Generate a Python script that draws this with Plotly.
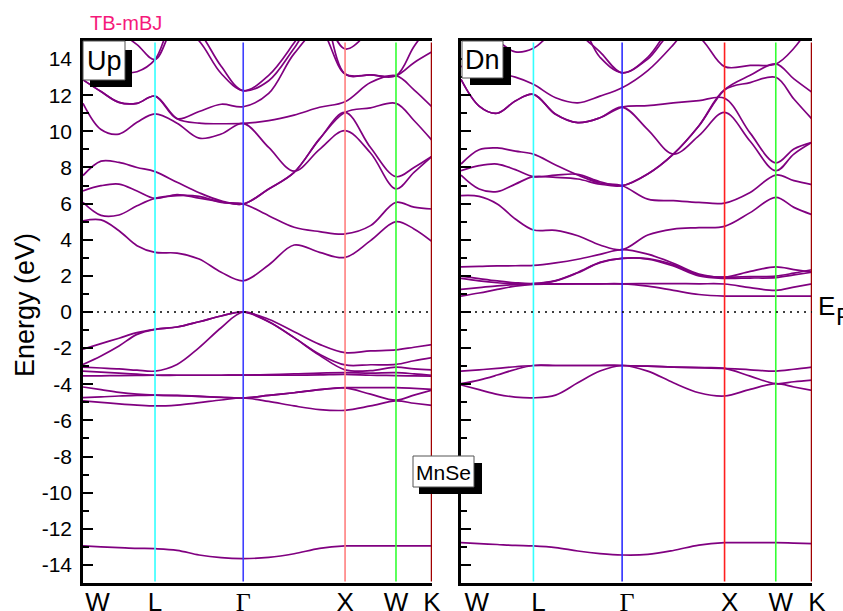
import plotly.graph_objects as go

# ---------------- data ----------------
KPTS = [0.0, 0.1768, 0.3536, 0.5303, 0.7071, 0.9236, 1.1401, 1.3566, 1.5731,
        1.8231, 2.0731, 2.3231, 2.5731, 2.8231, 3.0731, 3.2499, 3.4267]
HSP_POS = [0.0, 0.7071, 1.5731, 2.5731, 3.0731, 3.4267]
HSP_LABELS = ["W", "L", "Γ", "X", "W", "K"]
Y_TICKS = [-14, -12, -10, -8, -6, -4, -2, 0, 2, 4, 6, 8, 10, 12, 14]
Y_TICK_TEXT = ["-14", "-12", "-10", "-8", "-6", "-4", "-2", "0", "2", "4", "6", "8", "10", "12", "14"]
Y_MINOR = [-13, -11, -9, -7, -5, -3, -1, 1, 3, 5, 7, 9, 11, 13]

# spin up
UP_CORE = [[-12.95, -13.0, -13.04, -13.08, -13.1, -13.19, -13.45, -13.6, -13.65, -13.58, -13.38, -13.08, -12.95, -12.95, -12.95, -12.95, -12.95]]
UP_VALENCE = [
    [-4.92, -5.0, -5.08, -5.15, -5.2, -5.15, -5.02, -4.87, -4.76, -4.95, -5.2, -5.4, -5.44, -5.2, -4.92, -5.05, -5.17],
    [-4.74, -4.7, -4.65, -4.62, -4.6, -4.63, -4.68, -4.73, -4.76, -4.62, -4.47, -4.3, -4.2, -4.55, -4.88, -4.6, -4.32],
    [-4.15, -4.3, -4.45, -4.55, -4.6, -4.62, -4.66, -4.72, -4.76, -4.62, -4.47, -4.3, -4.19, -4.19, -4.19, -4.23, -4.28],
    [-3.54, -3.53, -3.52, -3.51, -3.5, -3.5, -3.5, -3.5, -3.49, -3.5, -3.5, -3.48, -3.45, -3.5, -3.52, -3.54, -3.55],
    [-3.27, -3.33, -3.38, -3.44, -3.5, -3.5, -3.5, -3.5, -3.49, -3.47, -3.43, -3.38, -3.36, -3.38, -3.36, -3.42, -3.5],
    [-3.05, -3.1, -3.15, -3.22, -3.27, -2.9, -1.97, -0.87, 0.0, -0.54, -1.42, -2.4, -3.2, -3.25, -3.05, -3.15, -3.2],
    [-2.9, -2.43, -1.88, -1.24, -0.96, -0.83, -0.54, -0.22, 0.0, -0.54, -1.42, -2.34, -2.93, -2.92, -2.9, -2.7, -2.53],
    [-2.06, -1.75, -1.45, -1.14, -0.96, -0.83, -0.54, -0.22, 0.0, -0.4, -1.09, -1.79, -2.25, -2.15, -2.1, -1.95, -1.8],
]
UP_CONDUCTION = [
    [5.05, 5.1, 4.5, 3.67, 3.3, 3.26, 2.93, 2.2, 1.73, 2.6, 3.71, 3.3, 3.02, 3.95, 5.0, 4.6, 3.9],
    [6.07, 5.35, 5.37, 5.88, 6.29, 6.44, 6.4, 6.07, 5.98, 5.33, 4.69, 4.45, 4.32, 4.78, 6.07, 5.8, 5.7],
    [6.7, 6.99, 7.08, 6.7, 6.29, 6.5, 6.3, 6.1, 5.98, 6.81, 7.73, 9.58, 11.05, 9.1, 7.49, 8.0, 8.62],
    [7.55, 8.35, 8.28, 8.0, 7.77, 7.18, 6.6, 6.15, 5.98, 6.81, 7.73, 9.58, 11.05, 11.3, 11.55, 10.6, 9.5],
    [11.55, 10.1, 9.85, 10.5, 10.97, 10.45, 9.62, 9.85, 10.44, 9.11, 7.8, 9.0, 10.04, 8.8, 6.81, 7.73, 8.62],
    [12.85, 12.2, 11.6, 11.55, 11.95, 10.7, 10.45, 10.42, 10.44, 10.59, 10.9, 11.33, 11.64, 12.7, 13.08, 12.3, 11.35],
    [12.85, 12.2, 11.6, 11.55, 11.95, 10.7, 11.1, 11.5, 11.36, 12.1, 14.3, 15.6, 13.17, 13.12, 13.08, 13.8, 14.4],
    [16.0, 16.0, 15.5, 14.8, 13.97, 16.0, 15.0, 13.2, 12.25, 12.8, 14.6, 16.5, 14.56, 15.6, 17.0, 17.0, 16.5],
    [13.5, 13.3, 13.25, 13.3, 13.97, 16.5, 15.5, 13.6, 12.25, 13.1, 14.9, 17.0, 13.17, 13.12, 13.08, 14.7, 16.0],
]

# spin down
DN_CORE = [[-12.77, -12.82, -12.87, -12.92, -12.95, -13.04, -13.23, -13.37, -13.45, -13.42, -13.2, -12.9, -12.77, -12.77, -12.77, -12.79, -12.82]]
DN_VALENCE = [
    [-4.04, -4.3, -4.56, -4.71, -4.75, -4.6, -3.92, -3.27, -2.96, -3.27, -3.92, -4.47, -4.65, -4.28, -3.97, -4.15, -4.34],
    [-3.97, -3.77, -3.49, -3.18, -2.96, -2.96, -2.96, -2.96, -2.96, -3.0, -3.05, -3.08, -3.12, -3.55, -3.97, -3.86, -3.77],
    [-3.27, -3.2, -3.12, -3.03, -2.96, -2.96, -2.96, -2.96, -2.96, -3.0, -3.05, -3.08, -3.12, -3.2, -3.27, -3.17, -3.05],
]
DN_CONDUCTION = [
    [0.88, 1.05, 1.25, 1.43, 1.53, 1.54, 1.55, 1.56, 1.56, 1.43, 1.2, 0.97, 0.88, 0.88, 0.88, 0.88, 0.88],
    [1.25, 1.35, 1.45, 1.52, 1.55, 1.56, 1.56, 1.56, 1.56, 1.57, 1.57, 1.56, 1.55, 1.35, 1.2, 1.38, 1.56],
    [1.86, 1.72, 1.62, 1.57, 1.56, 1.72, 2.17, 2.73, 2.97, 2.93, 2.55, 2.0, 1.86, 1.88, 1.9, 2.05, 2.2],
    [1.99, 1.85, 1.72, 1.62, 1.58, 1.74, 2.19, 2.75, 2.97, 2.95, 2.62, 2.05, 1.93, 1.96, 1.99, 2.15, 2.34],
    [2.5, 2.52, 2.55, 2.56, 2.58, 2.72, 2.92, 3.19, 3.45, 3.2, 2.7, 2.1, 1.93, 2.25, 2.5, 2.35, 2.21],
    [6.44, 6.4, 5.98, 5.15, 4.54, 4.52, 4.22, 3.71, 3.45, 4.26, 4.59, 4.67, 4.74, 5.5, 6.35, 5.79, 5.39],
    [8.19, 8.98, 9.08, 8.9, 8.74, 8.14, 7.58, 7.14, 6.99, 6.25, 6.16, 6.07, 6.03, 6.62, 7.58, 7.27, 7.05],
    [7.82, 8.1, 8.19, 7.88, 7.49, 7.58, 7.62, 7.21, 6.99, 7.64, 8.74, 10.31, 12.3, 12.7, 12.99, 11.79, 10.68],
    [7.58, 6.81, 6.66, 7.08, 7.49, 7.45, 7.36, 7.08, 6.99, 7.64, 8.74, 10.31, 12.3, 13.1, 13.73, 12.9, 12.16],
    [12.88, 11.4, 11.0, 11.68, 12.05, 10.94, 10.48, 10.75, 11.34, 10.1, 8.74, 9.76, 11.05, 9.45, 7.82, 8.74, 9.39],
    [12.88, 11.4, 11.0, 11.68, 12.05, 10.94, 10.48, 10.75, 11.34, 11.42, 11.57, 11.7, 11.83, 9.9, 8.25, 9.02, 9.39],
    [13.6, 13.4, 13.2, 13.0, 12.6, 11.86, 11.58, 11.95, 12.41, 13.36, 14.8, 16.5, 17.0, 17.0, 17.0, 17.0, 17.0],
    [16.0, 15.5, 15.0, 14.4, 14.6, 15.6, 16.0, 14.1, 13.24, 14.0, 15.5, 15.2, 13.58, 13.65, 13.73, 14.6, 16.0],
    [17.0, 17.0, 17.0, 17.0, 17.0, 17.0, 15.5, 14.4, 13.24, 14.1, 16.0, 17.0, 17.0, 17.0, 17.0, 17.0, 17.0],
]

# ---------------- styles ----------------
W, H = 843, 611
FONT = "Arial, 'Liberation Sans', sans-serif"
BAND_COLOR = "#800080"
LEFT_VLINE_COLORS = ["#33FFFF", "#3F3FFF", "#FF7F7F", "#33FF33", "#A00000"]
RIGHT_VLINE_COLORS = ["#33FFFF", "#2F2FFF", "#FF1F1F", "#33FF33", "#A00000"]
NB = "\u00a0"


def tick_text(labels, first_pad):
    out = []
    for i, lab in enumerate(labels):
        if lab == "Γ":
            lab = '<span style="font-family:Liberation Serif">Γ</span>'
        out.append(NB * (first_pad if i == 0 else 0) + lab)
    return out


def px(x):
    return x / W


def py(y):
    return 1 - y / H


YB, YT = py(583), py(41)

fig = go.Figure()

for xa, ya, groups in [("x", "y", [UP_CORE, UP_VALENCE, UP_CONDUCTION]),
                       ("x2", "y2", [DN_CORE, DN_VALENCE, DN_CONDUCTION])]:
    for g in groups:
        for band in g:
            fig.add_trace(go.Scatter(
                x=KPTS, y=band, xaxis=xa, yaxis=ya, mode="lines",
                line=dict(color=BAND_COLOR, width=1.7, shape="spline", smoothing=1.0),
                hoverinfo="skip", showlegend=False))

shapes = []
for xa, ya, cols in [("x", "y", LEFT_VLINE_COLORS), ("x2", "y2", RIGHT_VLINE_COLORS)]:
    for pos, c in zip(HSP_POS[1:], cols):
        wdt = 2.5 if c == "#A00000" else 1.6
        shapes.append(dict(type="line", xref=xa, yref="paper", x0=pos, x1=pos,
                           y0=YB + 1.5 / H, y1=YT - 1.5 / H,
                           line=dict(color=c, width=wdt), layer="above"))
    shapes.append(dict(type="line", xref=xa, yref=ya, x0=HSP_POS[0], x1=HSP_POS[-1],
                       y0=0, y1=0, line=dict(color="black", width=1.6, dash="2px,5px"),
                       layer="above"))


def box(x0, y0, x1, y1, sx0, sy0, sx1, sy1):
    return [dict(type="rect", xref="paper", yref="paper", x0=px(sx0), x1=px(sx1),
                 y0=py(sy1), y1=py(sy0), fillcolor="black", line=dict(width=0), layer="above"),
            dict(type="rect", xref="paper", yref="paper", x0=px(x0), x1=px(x1),
                 y0=py(y1), y1=py(y0), fillcolor="white", line=dict(color="#555555", width=1),
                 layer="above")]


shapes += box(83, 41, 125, 80, 90, 50, 132, 87)
shapes += box(462, 41, 503, 78, 470, 47, 511, 85)
shapes += box(413, 456, 474, 487, 419, 463, 482, 494)


def label(text, x, y, size, color="black", angle=0, xanchor="center"):
    return dict(text=text, x=px(x), y=py(y), xref="paper", yref="paper", showarrow=False,
                xanchor=xanchor, yanchor="middle", textangle=angle,
                font=dict(family=FONT, size=size, color=color))


annotations = [
    label("TB-mBJ", 126, 23, 20, color="#F5197A"),
    label("Up", 104, 61, 27),
    label("Dn", 482.5, 60, 27),
    label("MnSe", 443.5, 472, 21),
    label("Energy (eV)", 25, 305, 27, angle=-90),
    label("E", 816, 306, 26, xanchor="left"),
    label("F", 834, 316, 24, xanchor="left"),
]

xcommon = dict(range=[HSP_POS[0], HSP_POS[-1]], showline=True, linecolor="black", linewidth=2.5,
               mirror=True, tickmode="array", tickvals=HSP_POS, ticks="",
               tickfont=dict(family=FONT, size=26, color="black"), showgrid=False, zeroline=False,
               automargin=False, ticklabelstandoff=-6)
ycommon = dict(range=[-15, 15], showline=True, linecolor="black", linewidth=2.5, mirror=False,
               tickmode="array", tickvals=Y_TICKS, ticktext=Y_TICK_TEXT, ticks="inside",
               ticklen=10, tickwidth=2, tickcolor="black",
               minor=dict(tickmode="array", tickvals=Y_MINOR, ticks="inside", ticklen=6,
                          tickwidth=2, tickcolor="black"),
               tickfont=dict(family=FONT, size=21, color="black"), showgrid=False, zeroline=False,
               domain=[YB, YT], automargin=False)

fig.update_layout(
    width=W, height=H, margin=dict(l=0, r=0, t=0, b=0, autoexpand=False),
    paper_bgcolor="white", plot_bgcolor="white",
    xaxis=dict(domain=[px(83), px(432)], anchor="y",
               ticktext=tick_text(HSP_LABELS, 4), **xcommon),
    xaxis2=dict(domain=[px(461), px(812)], anchor="y2", ticklabelshift=5,
                ticktext=tick_text(HSP_LABELS, 3), **xcommon),
    yaxis=dict(anchor="x", ticklabelstandoff=4, **ycommon),
    yaxis2=dict(anchor="x2", showticklabels=False, **ycommon),
    shapes=shapes, annotations=annotations, showlegend=False,
)

fig.write_html("out.html")
